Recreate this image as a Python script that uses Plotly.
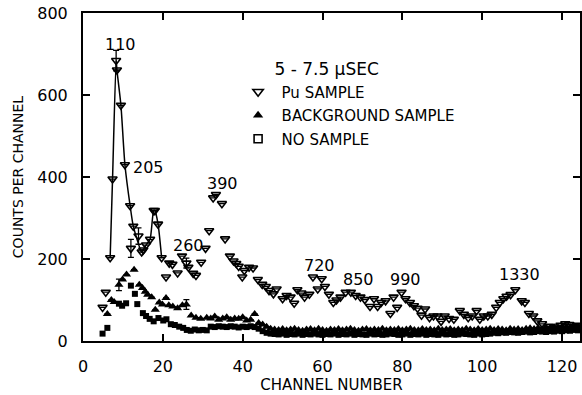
import plotly.graph_objects as go

# ---------------- data ----------------
pu_ch = [4.9, 5.7, 6.8, 7.4, 8.3, 8.5, 9.5, 10.5, 11.8, 12.0, 12.6, 13.9, 14.7, 15.1, 15.8, 16.8,
         17.7, 18.0, 18.8, 19.7, 20.8, 21.6, 22.4, 23.7, 24.8, 25.9, 26.4, 27.6, 28.3, 29.6,
         30.7, 31.6, 32.6, 33.3, 34.8, 35.6, 36.8, 37.7, 38.4, 39.0, 39.9, 40.4, 41.6, 42.6,
         43.8, 44.9, 45.8, 46.6, 47.7, 48.5, 50.0, 51.0, 52.0, 52.9, 53.7, 54.7, 55.5, 56.7,
         57.6, 58.8, 59.8, 60.6, 61.6, 62.7, 63.5, 64.5, 65.8, 67.1, 68.3, 69.5, 70.6, 71.9,
         72.9, 73.8, 74.7, 75.8, 77.0, 77.8, 78.7, 79.8, 80.8, 81.9, 82.9, 83.8, 84.8, 85.7,
         86.8, 87.8, 88.8, 89.7, 90.6, 91.7, 92.9, 94.4, 95.4, 96.5, 97.5, 98.6, 99.4, 100.4,
         101.4, 102.4, 103.5, 104.4, 105.3, 106.1, 107.1, 108.3, 109.9, 110.7, 111.7, 112.8,
         113.8, 115.0, 116.6, 118.1, 119.6, 120.8, 121.8, 123.2, 124.0]
pu_ct = [82, 119, 203, 395, 684, 661, 575, 430, 330, 226, 280, 256, 217, 222, 234, 248,
         318, 318, 285, 203, 156, 190, 187, 166, 207, 190, 180, 165, 160, 192,
         226, 269, 349, 357, 335, 249, 207, 195, 189, 182, 156, 172, 180, 178,
         150, 138, 133, 123, 115, 127, 103, 111, 107, 92, 125, 117, 107, 114,
         156, 127, 152, 133, 114, 94, 100, 107, 119, 119, 111, 107, 101, 84,
         103, 84, 94, 98, 67, 107, 82, 119, 103, 94, 86, 80, 63, 78,
         57, 61, 61, 48, 61, 55, 53, 74, 65, 57, 61, 74, 53, 61,
         61, 65, 82, 94, 103, 109, 113, 125, 98, 94, 67, 61,
         49, 42, 36, 34, 38, 42, 40, 36, 38]
pu_err = {8.3: 25, 12.0: 22, 13.9: 20, 25.9: 12}
pu_line_skip = [12.0, 13.9]

bg_ch = [6.1, 7.1, 7.8, 9.0, 9.9, 10.9, 12.8, 14.1, 14.9, 15.6, 16.2, 17.2, 18.1, 19.1, 19.9,
         20.8, 21.5, 22.5, 23.7, 24.9, 25.9, 27.1, 28.3, 29.5,
         31, 32, 33, 34, 35, 36, 37, 38, 39, 40, 41, 42, 43, 44, 45, 46, 47, 48] + list(range(49, 125))
bg_ct = [66, 100, 95, 137, 150, 162, 174, 137, 129, 120, 113, 107, 76, 94, 89,
         105, 87, 84, 80, 87, 89, 62, 57, 54,
         57, 55, 60, 52, 55, 58, 52, 55, 54, 58, 50, 52, 66, 44, 40, 35, 30, 28,
         27, 29, 26, 28, 30, 27, 25, 28, 29, 26,
         30, 27, 25, 28, 27, 29, 26, 28, 30, 27,
         25, 28, 29, 26, 28, 27, 30, 26, 28, 27,
         29, 26, 28, 30, 27, 26, 29, 27, 28, 26,
         30, 27, 28, 29, 26, 28, 27, 30, 28, 26,
         29, 27, 28, 30, 27, 29, 28, 26, 30, 28,
         29, 27, 30, 31, 29, 32, 30, 33, 31, 34,
         32, 35, 33, 34, 36, 35]
bg_err = {9.0: 14, 25.9: 12}

ns_ch = [4.9, 6.1, 9.0, 9.8, 10.8, 12.0, 13.0, 13.6, 15.0, 15.8, 16.7, 17.7, 18.9,
         20.1, 20.9, 22.0, 23.0, 24.1, 25.1] + list(range(26, 125))
ns_ct = [18, 32, 91, 86, 92, 135, 115, 90, 68, 61, 54, 48, 56,
         50, 53, 41, 39, 35, 32,
         27, 25, 28, 26, 27, 26, 35, 34, 36, 35, 34, 36, 35, 33, 35, 34, 36, 34, 30, 24, 20, 18,
         17, 16, 18, 15, 17, 16, 18, 15, 17, 16,
         18, 16, 15, 17, 16, 18, 15, 17, 16, 18,
         15, 17, 16, 15, 18, 16, 17, 15, 16, 18,
         17, 15, 16, 18, 15, 17, 16, 18, 15, 17,
         16, 15, 18, 16, 17, 15, 16, 18, 17, 16,
         15, 18, 16, 17, 18, 20, 19, 21, 20, 22,
         21, 20, 22, 23, 21, 22, 24, 23, 22, 24,
         23, 25, 24, 26, 25, 27, 26]

peak_labels = ["110", "205", "260", "390", "720", "850", "990", "1330"]
peak_label_ch = [9.5, 16.5, 26.5, 35.0, 59.3, 69.0, 80.8, 109.3]
peak_label_ct = [722, 424, 234, 383, 185, 149, 149, 161]

x_ticks = [0, 20, 40, 60, 80, 100, 120]
y_ticks = [0, 200, 400, 600, 800]

# ---------------- figure ----------------
FONT = "DejaVu Sans"
fig = go.Figure()

line_x, line_y = [], []
for c, v in zip(pu_ch, pu_ct):
    if 6 <= c <= 20 and c not in pu_line_skip:
        line_x.append(c)
        line_y.append(v)
fig.add_trace(go.Scatter(x=line_x, y=line_y, mode="lines", showlegend=False,
                         line=dict(color="black", width=1.5, shape="spline", smoothing=0.6),
                         hoverinfo="skip"))

fig.add_trace(go.Scatter(x=ns_ch, y=ns_ct, mode="markers", showlegend=False,
                         marker=dict(symbol="square", size=6, color="black")))
fig.add_trace(go.Scatter(x=bg_ch, y=bg_ct, mode="markers", showlegend=False,
                         marker=dict(symbol="triangle-up", size=8, color="black"),
                         error_y=dict(type="data",
                                      array=[bg_err.get(c, float("nan")) for c in bg_ch],
                                      color="black", thickness=1.3, width=3)))
fig.add_trace(go.Scatter(x=pu_ch, y=pu_ct, mode="markers", showlegend=False,
                         marker=dict(symbol="triangle-down-open", size=8, color="black",
                                     line=dict(width=1.6, color="black")),
                         error_y=dict(type="data",
                                      array=[pu_err.get(c, float("nan")) for c in pu_ch],
                                      color="black", thickness=1.3, width=3)))

fig.add_trace(go.Scatter(x=[None], y=[None], mode="markers", name="Pu SAMPLE", legendgroup="a",
                         marker=dict(symbol="triangle-down-open", size=9, color="black",
                                     line=dict(width=1.6, color="black"))))
fig.add_trace(go.Scatter(x=[None], y=[None], mode="markers", name="BACKGROUND SAMPLE", legendgroup="b",
                         marker=dict(symbol="triangle-up", size=9, color="black")))
fig.add_trace(go.Scatter(x=[None], y=[None], mode="markers", name="NO SAMPLE", legendgroup="c",
                         marker=dict(symbol="square-open", size=8, color="black",
                                     line=dict(width=1.6, color="black"))))

for t, cx, cy in zip(peak_labels, peak_label_ch, peak_label_ct):
    fig.add_annotation(x=cx, y=cy, text=t, showarrow=False,
                       font=dict(family=FONT, size=16, color="black"))

fig.update_layout(
    width=582, height=395,
    margin=dict(l=83, r=2, t=13, b=54),
    paper_bgcolor="white", plot_bgcolor="white",
    font=dict(family=FONT, color="black"),
    legend=dict(x=0.305, y=0.877, xanchor="left", yanchor="top",
                bgcolor="rgba(0,0,0,0)", itemwidth=37, tracegroupgap=1,
                traceorder="grouped",
                font=dict(family=FONT, size=15, color="black"),
                title=dict(text="\u00a0" * 7 + "5 - 7.5 μSEC", side="top",
                           font=dict(family=FONT, size=17, color="black"))),
    xaxis=dict(range=[0, 124.5], tickvals=x_ticks, ticktext=[str(v) for v in x_ticks],
               showgrid=False, zeroline=False, showline=True, linecolor="black",
               linewidth=2, mirror="ticks", ticks="inside", ticklen=7, tickwidth=1.5,
               tickcolor="black", ticklabelstandoff=10, ticklabeloverflow="allow",
               automargin=False,
               tickfont=dict(family=FONT, size=16, color="black"),
               title=dict(text="CHANNEL NUMBER", standoff=2,
                          font=dict(family=FONT, size=15, color="black"))),
    yaxis=dict(range=[0, 800], tickvals=y_ticks, ticktext=[str(v) for v in y_ticks],
               showgrid=False, zeroline=False, showline=True, linecolor="black",
               linewidth=2, mirror="ticks", ticks="inside", ticklen=7, tickwidth=1.5,
               tickcolor="black", ticklabelstandoff=10, ticklabeloverflow="allow",
               automargin=False,
               tickfont=dict(family=FONT, size=16, color="black"),
               title=dict(text="COUNTS PER CHANNEL", standoff=10,
                          font=dict(family=FONT, size=14, color="black"))),
)

fig.write_html("out.html")
